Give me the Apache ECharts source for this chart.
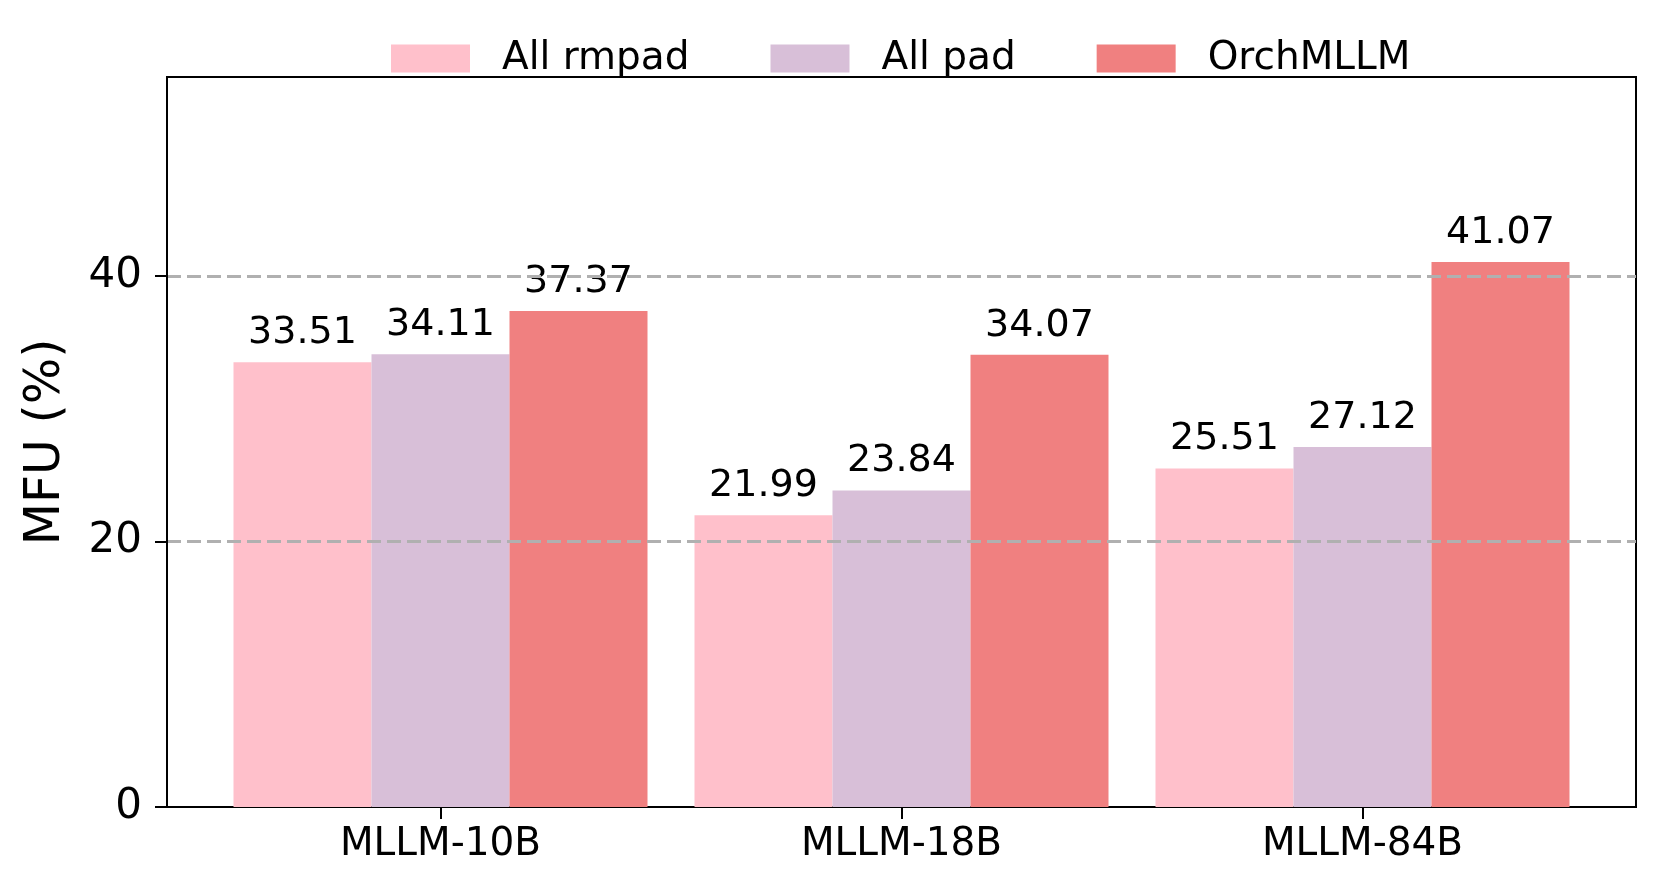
<!DOCTYPE html>
<html>
<head>
<meta charset="utf-8">
<script src="https://cdn.jsdelivr.net/npm/echarts@6/dist/echarts.min.js"></script>
<style>
	html, body { margin: 0; padding: 0; background: #fff; }
	#main { width: 1661px; height: 893px; }
</style>
</head>
<body>
<div id="main"></div>
<script>
// data
var models = ['MLLM-10B', 'MLLM-18B', 'MLLM-84B'];
var seriesNames = ['All rmpad', 'All pad', 'OrchMLLM'];
var allRmpad = [33.51, 21.99, 25.51];
var allPad = [34.11, 23.84, 27.12];
var orchMLLM = [37.37, 34.07, 41.07];
var yTicks = [0, 20, 40];
var colors = ['#FFC0CB', '#D8BFD8', '#F08080'];

var font = 'DejaVu Sans';

function barSeries(name, values, color) {
	return {
		name: name,
		type: 'bar',
		xAxisIndex: 1,
		yAxisIndex: 1,
		barWidth: 138,
		barGap: '0%',
		z: 2,
		itemStyle: { color: color },
		label: {
			show: true,
			position: 'top',
			distance: 10,
			fontFamily: font,
			fontSize: 38,
			color: '#000',
			formatter: function(p) {
				return p.value.toFixed(2);
			}
		},
		data: values
	};
}

var chart = echarts.init(document.getElementById('main'));
chart.setOption({
	animation: false,
	legend: {
		data: seriesNames,
		left: 386,
		top: 34,
		icon: 'rect',
		itemWidth: 79,
		itemHeight: 28,
		itemGap: 81,
		textStyle: {
			fontFamily: font,
			fontSize: 39,
			color: '#000',
			padding: [0, 0, 0, 27]
		}
	},
	grid: [{
			left: 167,
			right: 25,
			top: 77,
			bottom: 86,
			show: true,
			borderColor: '#000',
			borderWidth: 2
		},
		{
			left: 210,
			width: 1383,
			top: 77,
			bottom: 86
		}
	],
	xAxis: [{
			type: 'category',
			gridIndex: 0,
			data: models,
			show: false
		},
		{
			type: 'category',
			gridIndex: 1,
			data: models,
			axisLine: { show: false },
			axisTick: {
				show: true,
				alignWithLabel: true,
				length: 12,
				lineStyle: { color: '#000', width: 2 }
			},
			axisLabel: {
				fontFamily: font,
				fontSize: 39,
				color: '#000',
				margin: 18
			}
		}
	],
	yAxis: [{
			type: 'value',
			gridIndex: 0,
			min: 0,
			max: 55,
			interval: 20,
			z: 3,
			name: 'MFU (%)',
			nameLocation: 'middle',
			nameGap: 96,
			nameTextStyle: {
				fontFamily: font,
				fontSize: 49,
				color: '#000'
			},
			axisLine: {
				show: true,
				lineStyle: { color: '#000', width: 2 }
			},
			axisTick: {
				show: true,
				length: 12,
				customValues: yTicks,
				lineStyle: { color: '#000', width: 2 }
			},
			axisLabel: {
				fontFamily: font,
				fontSize: 42,
				color: '#000',
				margin: 25,
				padding: [6, 0, 0, 0],
				customValues: yTicks
			},
			splitLine: {
				show: true,
				showMinLine: false,
				lineStyle: {
					color: '#b0b0b0',
					width: 3,
					type: [14, 6]
				}
			}
		},
		{
			type: 'value',
			gridIndex: 1,
			min: 0,
			max: 55,
			show: false,
			splitLine: { show: false }
		}
	],
	series: [
		barSeries(seriesNames[0], allRmpad, colors[0]),
		barSeries(seriesNames[1], allPad, colors[1]),
		barSeries(seriesNames[2], orchMLLM, colors[2])
	]
});
</script>
</body>
</html>
